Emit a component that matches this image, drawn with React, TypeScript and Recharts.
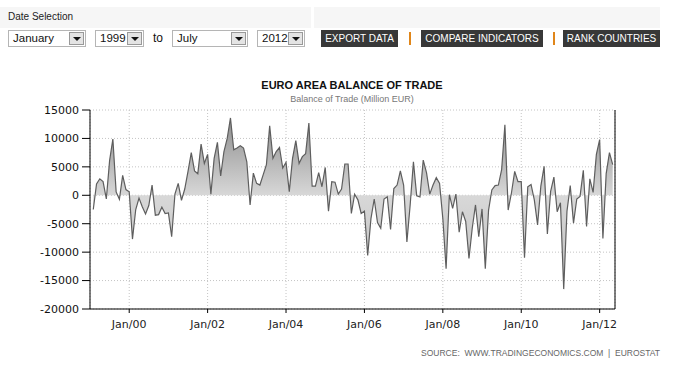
import React from "react";
import { AreaChart, Area, XAxis, YAxis, CartesianGrid } from "recharts";

// monthly balance, million EUR, first value = Feb 1999
const balance = [
  -2500, 2000, 2900, 2400, -650, 6100, 9900, 600, -700, 3500, 1000, 600,
  -7700, -2500, -500, -2000, -3300, -1800, 1800, -3500, -3400, -2100, -3200, -3100,
  -7300, 200, 2100, -900, 1100, 4200, 7500, 4300, 3800, 9000, 5600, 7200,
  200, 6500, 9300, 3400, 7700, 10000, 13600, 8000, 8300, 8700, 8300, 5900,
  -1700, 3900, 2100, 1800, 3600, 5400, 12200, 6500, 7700, 8400, 4800, 5800,
  650, 6500, 9600, 5600, 6800, 7300, 12700, 1600, 1600, 4000, 1500, 4900,
  -2800, 2400, 2300, 200, 1100, 5500, 5500, -3200, 200, -800, -3200, -2800,
  -10600, -4100, -650, -4800, -5800, -650, -250, -6000, 1200, 1800, 4300, 1800,
  -8200, -1700, 5900, -100, -300, 6200, 4000, 200, 1800, 3100, 2100, -4100,
  -12900, 100, -2300, 200, -6500, -2900, -4600, -11100, -5800, -1700, -7300, -2400,
  -12900, -2600, 950, 1700, 1800, 4500, 12400, -2600, 400, 4200, 2400, 2400,
  -11000, 1500, 1900, -800, -5200, 1600, 5100, -6800, 700, 3200, -2900, -1300,
  -16500, -2800, 1700, -4900, -650, -200, 4400, -5500, 2900, 500, 7200, 9800,
  -7600, 3800, 7500, 5400,
];

const yTicks = [-20000, -15000, -10000, -5000, 0, 5000, 10000, 15000];
const xTicks = [12, 36, 60, 84, 108, 132, 156]; // months since Jan 1999
const xTickLabels = ["Jan/00", "Jan/02", "Jan/04", "Jan/06", "Jan/08", "Jan/10", "Jan/12"];

const data = balance.map((v, i) => ({ m: i + 1, value: v }));

const font = "'Liberation Sans', Arial, sans-serif";

const SelectBox = ({ left, width, label }: { left: number; width: number; label: string }) => (
  <div
    style={{
      position: "absolute",
      left,
      top: 30,
      width,
      height: 17,
      border: "1px solid #b5b5b5",
      background: "#fff",
      boxSizing: "border-box",
      fontFamily: font,
      fontSize: 11.5,
      lineHeight: "15px",
      paddingLeft: 4,
      color: "#111",
    }}
  >
    {label}
    <div
      style={{
        position: "absolute",
        right: 1,
        top: 1,
        width: 15,
        height: 13,
        border: "1px solid #999",
        background: "#e4e4e4",
        boxSizing: "border-box",
      }}
    >
      <div
        style={{
          position: "absolute",
          left: 3,
          top: 4,
          width: 0,
          height: 0,
          borderLeft: "4px solid transparent",
          borderRight: "4px solid transparent",
          borderTop: "4px solid #111",
        }}
      />
    </div>
  </div>
);

const Button = ({ left, width, label }: { left: number; width: number; label: string }) => (
  <div
    style={{
      position: "absolute",
      left,
      top: 30,
      width,
      height: 17,
      background: "#383838",
      color: "#fff",
      fontFamily: font,
      fontSize: 10,
      lineHeight: "17px",
      textAlign: "center",
    }}
  >
    {label}
  </div>
);

const Sep = ({ left }: { left: number }) => (
  <div style={{ position: "absolute", left, top: 32, width: 2, height: 13, background: "#e0861a" }} />
);

const App: React.FC = () => {
  return (
    <div style={{ position: "absolute", left: 0, top: 0, width: 697, height: 365, background: "#fff", overflow: "hidden" }}>
      <AreaChart
        width={697}
        height={365}
        data={data}
        margin={{ top: 110, right: 22, bottom: 26, left: 30 }}
      >
        <defs>
          <linearGradient id="balFill" gradientUnits="userSpaceOnUse" x1="0" y1="110" x2="0" y2="309">
            <stop offset="0" stopColor="#858585" />
            <stop offset="0.43" stopColor="#d8d8d8" />
            <stop offset="1" stopColor="#b8b8b8" />
          </linearGradient>
        </defs>
        <CartesianGrid yAxisId="left" stroke="#c4c4c4" strokeDasharray="1 2" />
        <XAxis
          type="number"
          dataKey="m"
          domain={[0, 160.7]}
          ticks={xTicks}
          tickFormatter={(v: number) => xTickLabels[xTicks.indexOf(v)] ?? ""}
          height={30}
          tickSize={4}
          tickMargin={7}
          axisLine={{ stroke: "#000" }}
          tickLine={{ stroke: "#000" }}
          tick={{ fill: "#222", fontSize: 11, fontFamily: "'DejaVu Sans', sans-serif" }}
          allowDataOverflow
        />
        <YAxis
          yAxisId="left"
          domain={[-20000, 15000]}
          ticks={yTicks}
          width={60}
          tickSize={8}
          tickMargin={3}
          axisLine={{ stroke: "#000" }}
          tickLine={{ stroke: "#000" }}
          tick={{ fill: "#111", fontSize: 11, fontFamily: "'DejaVu Sans', sans-serif" }}
        />
        <YAxis
          yAxisId="right"
          orientation="right"
          domain={[-20000, 15000]}
          ticks={yTicks}
          width={60}
          tickSize={8}
          tickMargin={3}
          axisLine={{ stroke: "#000" }}
          tickLine={{ stroke: "#000" }}
          tick={{ fill: "#111", fontSize: 11, fontFamily: "'DejaVu Sans', sans-serif" }}
        />
        <Area
          yAxisId="left"
          type="linear"
          dataKey="value"
          stroke="#5e5e5e"
          strokeWidth={1.2}
          fill="url(#balFill)"
          fillOpacity={1}
          baseValue={0}
          dot={false}
          activeDot={false}
          isAnimationActive={false}
        />
      </AreaChart>

      {/* header controls */}
      <div style={{ position: "absolute", left: 0, top: 7, width: 311, height: 21, background: "#f6f6f6" }} />
      <div style={{ position: "absolute", left: 314, top: 7, width: 346, height: 21, background: "#f6f6f6" }} />
      <div style={{ position: "absolute", left: 8, top: 11, fontFamily: font, fontSize: 10, color: "#222" }}>
        Date Selection
      </div>
      <SelectBox left={8} width={78} label="January" />
      <SelectBox left={95} width={49} label="1999" />
      <div style={{ position: "absolute", left: 153, top: 31, fontFamily: font, fontSize: 12, color: "#111" }}>to</div>
      <SelectBox left={172} width={76} label="July" />
      <SelectBox left={257} width={48} label="2012" />
      <Button left={321} width={77} label="EXPORT DATA" />
      <Sep left={409} />
      <Button left={421} width={122} label="COMPARE INDICATORS" />
      <Sep left={553} />
      <Button left={563} width={97} label="RANK COUNTRIES" />

      {/* titles */}
      <div
        style={{
          position: "absolute",
          left: 0,
          width: 704,
          top: 79,
          textAlign: "center",
          fontFamily: font,
          fontSize: 11,
          fontWeight: "bold",
          color: "#111",
        }}
      >
        EURO AREA BALANCE OF TRADE
      </div>
      <div
        style={{
          position: "absolute",
          left: 0,
          width: 704,
          top: 94,
          textAlign: "center",
          fontFamily: font,
          fontSize: 9,
          color: "#777",
        }}
      >
        Balance of Trade (Million EUR)
      </div>
      <div
        style={{
          position: "absolute",
          right: 37,
          top: 348,
          fontFamily: font,
          fontSize: 8.5,
          color: "#666",
          whiteSpace: "pre",
        }}
      >
        {"SOURCE:  WWW.TRADINGECONOMICS.COM  |  EUROSTAT"}
      </div>
    </div>
  );
};

export default App;
